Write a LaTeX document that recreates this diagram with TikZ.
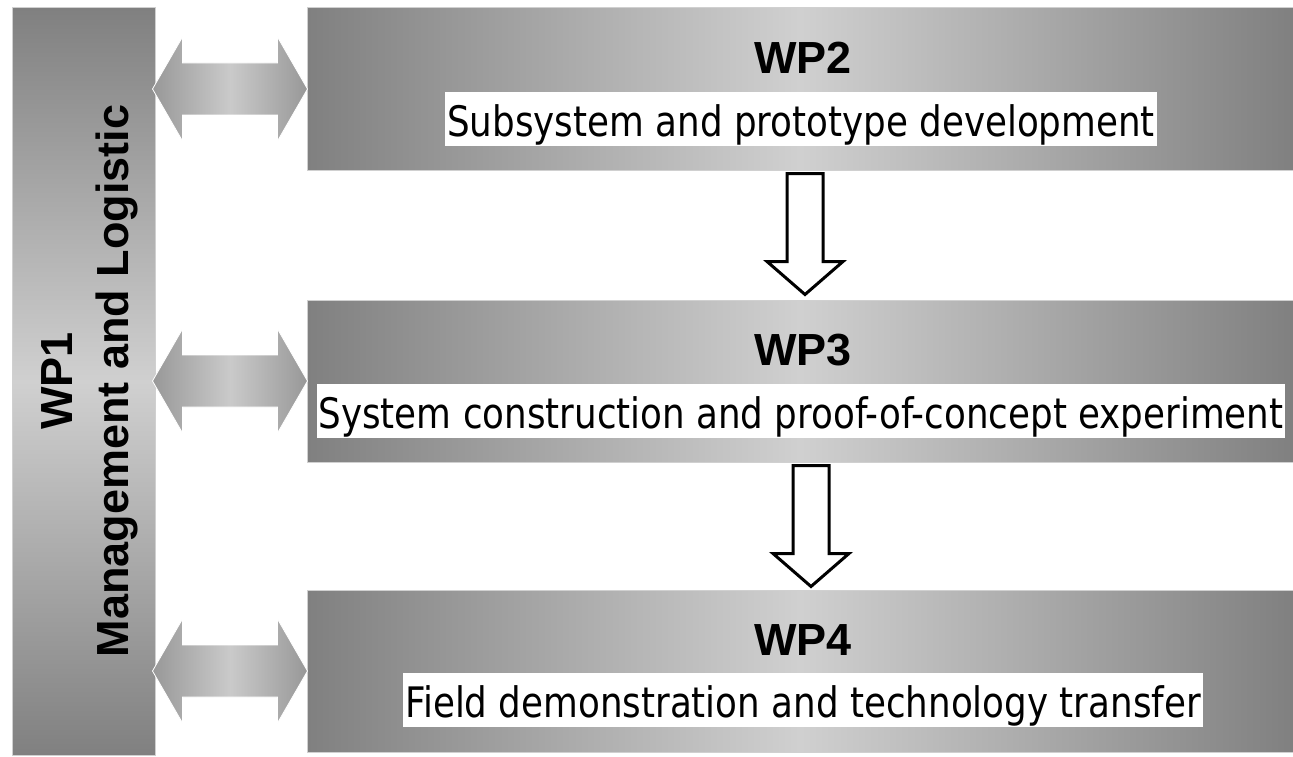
\documentclass[tikz,border=0pt]{standalone}
\usepackage{fontspec}
\setmainfont{Liberation Sans}
\newfontfamily\wptext{DejaVu Sans}[FakeStretch=0.85]
\usepackage{tikz}
\usetikzlibrary{calc}

\definecolor{wpdark}{HTML}{808080}
\definecolor{wplight}{HTML}{D0D0D0}
\definecolor{linkdark}{HTML}{989898}
\definecolor{linklight}{HTML}{CACACA}

\tikzset{
  wpbox/.style={rectangle, draw=wplight, line width=1pt, inner sep=0pt,
    minimum width=986pt, minimum height=162pt,
    left color=wpdark, right color=wpdark, middle color=wplight},
  wpbar/.style={rectangle, draw=wplight, line width=1pt, inner sep=0pt,
    minimum width=143pt, minimum height=747pt,
    top color=wpdark, bottom color=wpdark, middle color=wplight},
  wptitle/.style={font=\bfseries\fontsize{45}{54}\selectfont, inner sep=0pt},
  wpdesc/.style={fill=white, font=\wptext\fontsize{42}{44}\selectfont,
    inner xsep=2pt, inner ysep=0pt, text height=44pt, text depth=10pt},
  linkshade/.style={left color=linkdark, right color=linkdark,
    middle color=linklight, draw=white, line width=0.8pt},
  flowline/.style={draw=black, fill=white, line width=3pt, line join=miter}
}

% double arrow between WP1 and a work package
\newcommand{\linkarrow}[1]{%
  \shade[linkshade] ($(wp1.east |- #1.west)+(-3,0)$) -- ++(30,-52) -- ++(0,26)
    -- ++(95,0) -- ++(0,-26) -- ++(30,52) -- ++(-30,52) -- ++(0,-26)
    -- ++(-95,0) -- ++(0,26) -- cycle;}

% hollow arrow down from one work package to the next
\newcommand{\flowarrow}[2]{%
  \draw[flowline] ($(#1.south)+(#2,3)$) ++(-18,0) -- ++(36,0) -- ++(0,88)
    -- ++(20,0) -- ++(-38,33) -- ++(-38,-33) -- ++(20,0) -- cycle;}

\begin{document}
\begin{tikzpicture}[x=1pt, y=-1pt]
  \useasboundingbox (0,0) rectangle (1293,757);

  \node[wpbar] (wp1) at (83.5,381.5) {};
  \node[rotate=90, align=center, inner sep=0pt,
        font=\bfseries\fontsize{45}{56}\selectfont] (wp1label) at (90,381)
        {WP1\\Management and Logistic};

  \node[wpbox] (wp2) at (800,89) {};
  \node[wpbox] (wp3) at (800,381) {};
  \node[wpbox] (wp4) at (800,671) {};

  \node[wptitle] (wp2title) at (803,58) {WP2};
  \node[wpdesc] (wp2desc) at (801,119) {Subsystem and prototype development};
  \node[wptitle] (wp3title) at (803,350) {WP3};
  \node[wpdesc] (wp3desc) at (801,411) {System construction and proof-of-concept experiment};
  \node[wptitle] (wp4title) at (803,640) {WP4};
  \node[wpdesc] (wp4desc) at (803,700) {Field demonstration and technology transfer};

  \linkarrow{wp2}
  \linkarrow{wp3}
  \linkarrow{wp4}

  \flowarrow{wp2}{5}
  \flowarrow{wp3}{11}
\end{tikzpicture}
\end{document}
